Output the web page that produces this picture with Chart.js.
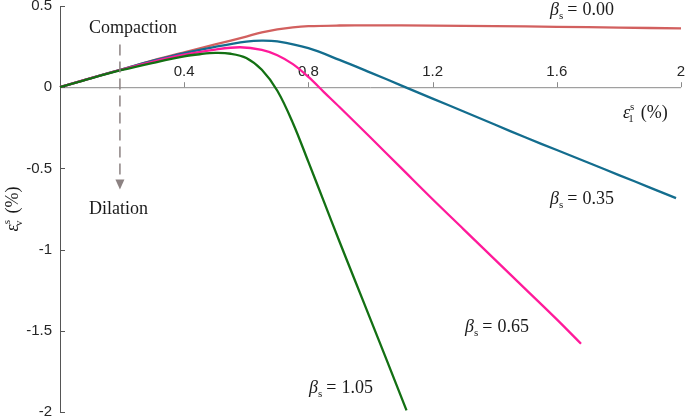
<!DOCTYPE html>
<html>
<head>
<meta charset="utf-8">
<script src="https://cdn.jsdelivr.net/npm/chart.js@4"></script>
<style>
  html, body { margin: 0; padding: 0; background: #ffffff; }
  #wrap { width: 685px; height: 418px; position: relative; }
</style>
</head>
<body>
<div id="wrap"><canvas id="grafico"></canvas></div>
<script>
// ==========================
// dados
// ==========================
const beta000_e1 = [0, 0.1, 0.2, 0.3, 0.4, 0.5, 0.6, 0.65, 0.7, 0.75, 0.8, 0.9, 1.0, 1.2, 1.4, 1.6, 1.8, 2.0];
const beta000_ev = [0, 0.056, 0.11, 0.165, 0.215, 0.263, 0.312, 0.337, 0.356, 0.369, 0.376, 0.38, 0.381, 0.379, 0.376, 0.372, 0.367, 0.362];

const beta035_e1 = [0, 0.1, 0.2, 0.3, 0.4, 0.5, 0.6, 0.65, 0.7, 0.8, 0.9, 1.0, 1.1, 1.2, 1.3, 1.4, 1.5, 1.6, 1.7, 1.8, 1.9, 1.984];
const beta035_ev = [0, 0.056, 0.11, 0.163, 0.21, 0.249, 0.281, 0.287, 0.282, 0.24, 0.168, 0.09, 0.01, -0.07, -0.15, -0.23, -0.31, -0.387, -0.464, -0.541, -0.618, -0.683];

const beta065_e1 = [0, 0.1, 0.2, 0.3, 0.4, 0.5, 0.58, 0.65, 0.7, 0.75, 0.8, 0.85, 0.9, 1.0, 1.1, 1.2, 1.3, 1.4, 1.5, 1.6, 1.678];
const beta065_ev = [0, 0.056, 0.109, 0.158, 0.2, 0.232, 0.246, 0.23, 0.197, 0.142, 0.063, -0.03, -0.122, -0.31, -0.5, -0.69, -0.875, -1.06, -1.245, -1.43, -1.58];

const beta105_e1 = [0, 0.1, 0.2, 0.3, 0.4, 0.45, 0.5, 0.55, 0.6, 0.65, 0.7, 0.75, 0.8, 0.85, 0.9, 0.95, 1.0, 1.05, 1.116];
const beta105_ev = [0, 0.055, 0.106, 0.15, 0.19, 0.203, 0.211, 0.206, 0.18, 0.107, -0.022, -0.22, -0.46, -0.705, -0.95, -1.19, -1.43, -1.67, -1.99];

const xTicks = [0.4, 0.8, 1.2, 1.6, 2];
const xTickLabels = ["0.4", "0.8", "1.2", "1.6", "2"];
const yTicks = [0.5, 0, -0.5, -1, -1.5, -2];
const yTickLabels = ["0.5", "0", "-0.5", "-1", "-1.5", "-2"];

const serie = (xs, ys) => xs.map((x, i) => ({ x, y: ys[i] }));

const SERIF = '"Liberation Serif", "DejaVu Serif", serif';
const SANS = '"Liberation Sans", Arial, sans-serif';

// desenha texto "matematico" com sub/sobrescritos
function medirPartes(ctx, partes) {
  let w = 0;
  partes.forEach((p) => {
    ctx.font = `${p.italic ? "italic " : ""}${p.size}px ${SERIF}`;
    p.w = ctx.measureText(p.t).width;
    w += p.w + (p.gap || 0);
  });
  return w;
}
function desenharPartes(ctx, partes, x, y) {
  let cx = x;
  ctx.textBaseline = "alphabetic";
  ctx.textAlign = "left";
  partes.forEach((p) => {
    ctx.font = `${p.italic ? "italic " : ""}${p.size}px ${SERIF}`;
    ctx.fillText(p.t, cx, y + (p.dy || 0));
    if (p.w === undefined) p.w = ctx.measureText(p.t).width;
    cx += p.w + (p.gap || 0);
  });
}
function rotuloBeta(valor) {
  return [
    { t: "β", italic: true, size: 18 },
    { t: "s", size: 11, dy: 4, gap: 4 },
    { t: "=", size: 18, gap: 5 },
    { t: valor, size: 18 },
  ];
}
function rotuloEps(sub) {
  return [
    { t: "ε", italic: true, size: 18 },
    { t: "s", size: 11, dy: -8, gap: -6 },
    { t: sub, size: 11, dy: 4, gap: 7 },
    { t: "(%)", size: 18 },
  ];
}

const decoracao = {
  id: "decoracao",
  beforeDatasetsDraw(chart) {
    const { ctx, scales } = chart;
    const sx = scales.x, sy = scales.y;
    const x0 = sx.getPixelForValue(0);
    const y0 = sy.getPixelForValue(0);
    ctx.save();
    // eixo x na linha do zero
    ctx.strokeStyle = "#8a8a8a";
    ctx.lineWidth = 1;
    ctx.beginPath();
    ctx.moveTo(x0, y0 + 0.5);
    ctx.lineTo(sx.getPixelForValue(2), y0 + 0.5);
    ctx.stroke();
    xTicks.forEach((v) => {
      const px = Math.round(sx.getPixelForValue(v)) + 0.5;
      ctx.beginPath();
      ctx.moveTo(px, y0);
      ctx.lineTo(px, y0 - 5);
      ctx.stroke();
    });
    // eixo y
    ctx.strokeStyle = "#555555";
    ctx.beginPath();
    ctx.moveTo(x0 + 0.5, sy.getPixelForValue(0.5));
    ctx.lineTo(x0 + 0.5, sy.getPixelForValue(-2));
    ctx.stroke();
    yTicks.forEach((v) => {
      const py = Math.round(sy.getPixelForValue(v)) + 0.5;
      ctx.beginPath();
      ctx.moveTo(x0, py);
      ctx.lineTo(x0 + 5, py);
      ctx.stroke();
    });
    // rotulos dos ticks
    ctx.fillStyle = "#262626";
    ctx.font = `15px ${SANS}`;
    ctx.textAlign = "center";
    ctx.textBaseline = "middle";
    xTicks.forEach((v, i) => {
      ctx.fillText(xTickLabels[i], sx.getPixelForValue(v), y0 - 15);
    });
    ctx.textAlign = "right";
    yTicks.forEach((v, i) => {
      ctx.fillText(yTickLabels[i], x0 - 8, sy.getPixelForValue(v));
    });
    ctx.restore();
  },
  afterDraw(chart) {
    const { ctx, scales } = chart;
    const sx = scales.x, sy = scales.y;
    ctx.save();
    ctx.fillStyle = "#1a1a1a";

    // titulo eixo x
    desenharPartes(ctx, rotuloEps("1"), 623, 118);

    // titulo eixo y (rotacionado)
    const py = rotuloEps("v");
    const wy = medirPartes(ctx, py);
    ctx.save();
    ctx.translate(18, 209);
    ctx.rotate(-Math.PI / 2);
    desenharPartes(ctx, py, -wy / 2, 0);
    ctx.restore();

    // rotulos das curvas
    desenharPartes(ctx, rotuloBeta("0.00"), 550, 15);
    desenharPartes(ctx, rotuloBeta("0.35"), 550, 204);
    desenharPartes(ctx, rotuloBeta("0.65"), 465, 332);
    desenharPartes(ctx, rotuloBeta("1.05"), 309, 393);

    // seta compactacao / dilatacao
    const ax = sx.getPixelForValue(0.193);
    const yTop = sy.getPixelForValue(0.263);
    const yTip = sy.getPixelForValue(-0.63);
    ctx.strokeStyle = "#8c8282";
    ctx.fillStyle = "#8c8282";
    ctx.lineWidth = 1.5;
    ctx.setLineDash([11, 6]);
    ctx.beginPath();
    ctx.moveTo(ax, yTop);
    ctx.lineTo(ax, yTip - 8);
    ctx.stroke();
    ctx.setLineDash([]);
    ctx.beginPath();
    ctx.moveTo(ax, yTip);
    ctx.lineTo(ax - 4.5, yTip - 10);
    ctx.lineTo(ax + 4.5, yTip - 10);
    ctx.closePath();
    ctx.fill();

    ctx.fillStyle = "#1a1a1a";
    ctx.font = `18px ${SERIF}`;
    ctx.textAlign = "left";
    ctx.textBaseline = "middle";
    ctx.fillText("Compaction", 89, 28);
    ctx.fillText("Dilation", 89, 209);
    ctx.restore();
  },
};

const linha = (dados, cor, ordem) => ({
  data: dados,
  borderColor: cor,
  backgroundColor: cor,
  borderWidth: 2.3,
  pointRadius: 0,
  tension: 0.35,
  fill: false,
  order: ordem,
});

new Chart(document.getElementById("grafico"), {
  type: "line",
  data: {
    datasets: [
      linha(serie(beta105_e1, beta105_ev), "#137013", 1),
      linha(serie(beta065_e1, beta065_ev), "#ff1a9a", 2),
      linha(serie(beta035_e1, beta035_ev), "#136d8e", 3),
      linha(serie(beta000_e1, beta000_ev), "#d2605f", 4),
    ],
  },
  options: {
    responsive: true,
    maintainAspectRatio: false,
    animation: false,
    layout: { padding: { left: 60, right: 4, top: 6, bottom: 6 } },
    plugins: { legend: { display: false }, tooltip: { enabled: false } },
    clip: false,
    scales: {
      x: { type: "linear", min: 0, max: 2, display: false },
      y: { type: "linear", min: -2, max: 0.5, display: false },
    },
  },
  plugins: [decoracao],
});
</script>
</body>
</html>
